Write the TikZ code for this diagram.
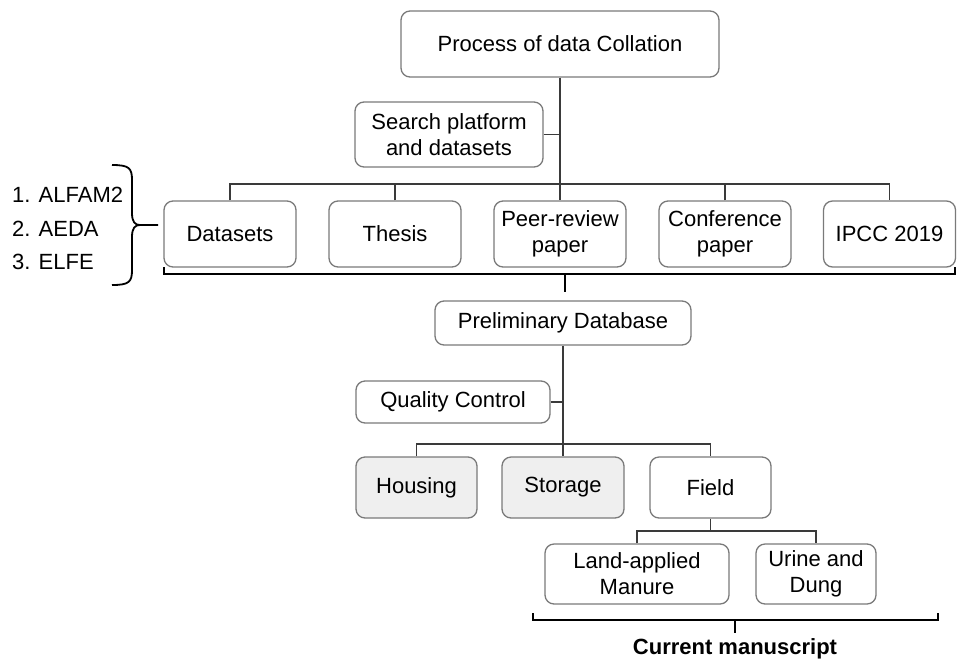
\documentclass[tikz,border=0pt]{standalone}
\usepackage{fontspec}
\setmainfont{Liberation Sans}
\definecolor{boxgray}{HTML}{7A7A7A}
\definecolor{linegray}{HTML}{3A3A3A}
\definecolor{boxfill}{HTML}{EFEFEF}
\newcommand\fsz{\fontsize{22}{26}\selectfont}
\tikzset{
  box/.style={draw=boxgray, line width=1.3pt, rounded corners=9pt, fill=white,
    align=center, inner sep=0pt, font=\fsz},
  gbox/.style={box, fill=boxfill},
  conn/.style={draw=linegray, line width=1.3pt},
  bracket/.style={draw=black, line width=1.8pt},
  lbl/.style={inner sep=0pt, font=\fsz, anchor=west}
}
\begin{document}
\begin{tikzpicture}[x=1pt,y=-1pt]
\useasboundingbox[fill=white] (0,0) rectangle (957,659);
% nodes
\node[box, minimum width=318, minimum height=66] (title) at (560,44) {Process of data Collation};
\node[box, minimum width=188, minimum height=65] (search) at (449,134.5) {Search platform\\and datasets};
\node[box, minimum width=132, minimum height=66] (datasets) at (230,234) {Datasets};
\node[box, minimum width=132, minimum height=66] (thesis) at (395,234) {Thesis};
\node[box, minimum width=132, minimum height=66] (peer) at (560,234) {Peer-review\\paper};
\node[box, minimum width=132, minimum height=66] (conf) at (725,234) {Conference\\paper};
\node[box, minimum width=132, minimum height=66] (ipcc) at (889.5,234) {IPCC 2019};
\node[box, minimum width=256, minimum height=44] (prelim) at (563,323) {Preliminary Database};
\node[box, minimum width=194, minimum height=42] (quality) at (453,402) {Quality Control};
\node[gbox, minimum width=121, minimum height=61] (housing) at (416.5,487.5) {Housing};
\node[gbox, minimum width=122, minimum height=61] (storage) at (563,487.5) {Storage};
\node[box, minimum width=121, minimum height=61] (field) at (710.5,487.5) {Field};
\node[box, minimum width=184, minimum height=60] (land) at (637,574) {Land-applied\\Manure};
\node[box, minimum width=120, minimum height=60] (urine) at (816,574) {Urine and\\Dung};
\node[lbl] (l1) at (12,195) {1. ALFAM2};
\node[lbl] (l2) at (12,229) {2. AEDA};
\node[lbl] (l3) at (12,262) {3. ELFE};
\node[font=\fsz\bfseries, inner sep=0pt] (cur) at (735,649) {Current manuscript};
% bus coordinates
\coordinate (bus1) at (0,184);
\coordinate (bus2) at (0,444);
\coordinate (bus3) at (0,531);
% connectors
\draw[conn] (title.south) -- (peer.north);
\draw[conn] (search.east) -- (search.east -| title.south);
\draw[conn] (datasets.north) |- (bus1 -| ipcc.north) -- (ipcc.north);
\draw[conn] (thesis.north) -- (thesis.north |- bus1);
\draw[conn] (conf.north) -- (conf.north |- bus1);
\draw[conn] (prelim.south) -- (storage.north);
\draw[conn] (quality.east) -- (quality.east -| prelim.south);
\draw[conn] (housing.north) |- (bus2 -| field.north) -- (field.north);
\draw[conn] (field.south) -- (field.south |- bus3);
\draw[conn] (land.north) |- (bus3 -| urine.north) -- (urine.north);
% brackets
\coordinate (b1l) at (164,267);
\coordinate (b1r) at (955,267);
\coordinate (b1t) at (565,292);
\draw[bracket] (b1l) -- (164,274) -- (955,274) -- (b1r);
\draw[bracket] (565,274) -- (b1t);
\coordinate (b2l) at (533,613);
\coordinate (b2r) at (938,613);
\coordinate (b2t) at (735,633);
\draw[bracket] (b2l) -- (533,620) -- (938,620) -- (b2r);
\draw[bracket] (735,620) -- (b2t);
% left curly brace
\coordinate (cbtop) at (112,165);
\coordinate (cbbot) at (112,285);
\coordinate (cbtip) at (140,225);
\coordinate (cbend) at (158,225);
\draw[bracket] (cbtop) .. controls (129,165) and (132,168) .. (132,180) -- (132,213)
  .. controls (132,222) and (135,225) .. (cbtip) -- (cbend);
\draw[bracket] (cbbot) .. controls (129,285) and (132,282) .. (132,270) -- (132,237)
  .. controls (132,228) and (135,225) .. (cbtip);
\end{tikzpicture}
\end{document}
